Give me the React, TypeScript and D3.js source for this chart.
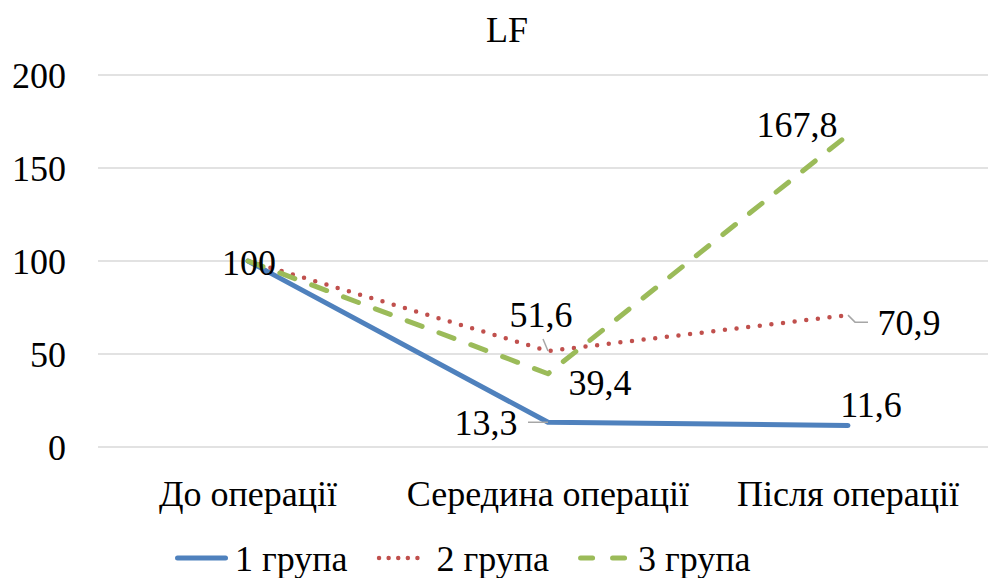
import React from "react";
import * as d3 from "d3";

const categories = ["До операції", "Середина операції", "Після операції"];
const seriesNames = ["1 група", "2 група", "3 група"];
const group1 = [100, 13.3, 11.6];
const group2 = [100, 51.6, 70.9];
const group3 = [100, 39.4, 167.8];
const yTicks = [0, 50, 100, 150, 200];

const W = 988;
const H = 578;
const FONT = "'Liberation Serif', 'Times New Roman', 'Liberation Sans', Arial, sans-serif";
const FS = 36;

const colors = ["#4F81BD", "#C0504D", "#9BBB59"];
const dashes = ["none", "0 11.7", "16 18"];
const legendDashes = ["none", "0 9.6", "12 20"];
const widths = [5, 4.5, 5];

const fmt = (v: number) => (Number.isInteger(v) ? String(v) : v.toFixed(1).replace(".", ","));

const txtStyle: React.CSSProperties = { fontFamily: FONT, fontSize: FS };

function textWidth(s: string): number {
  if (typeof document === "undefined") return s.length * FS * 0.5;
  const c = document.createElement("canvas").getContext("2d");
  if (!c) return s.length * FS * 0.5;
  c.font = `${FS}px ${FONT}`;
  return c.measureText(s).width;
}

export default function App() {
  const x = d3.scalePoint<string>().domain(categories).range([248, 848]);
  const y = d3.scaleLinear().domain([0, 200]).range([447, 75]);
  const line = d3
    .line<number>()
    .x((_, i) => x(categories[i]) as number)
    .y((d) => y(d));

  const all = [group1, group2, group3];

  // label offsets relative to the data point
  type Lbl = { s: number; i: number; dx: number; dy: number; leader?: [number, number][] };
  const labels: Lbl[] = [
    { s: 0, i: 0, dx: 1, dy: 14 },
    { s: 1, i: 1, dx: -7, dy: -24, leader: [[-5, -12], [0, 0]] },
    { s: 2, i: 1, dx: 52, dy: 21 },
    { s: 0, i: 1, dx: -62, dy: 13, leader: [[-20, 0], [0, 0]] },
    { s: 2, i: 2, dx: -51, dy: 2 },
    { s: 1, i: 2, dx: 61, dy: 20, leader: [[20, 7], [7, 7], [0, 0]] },
    { s: 0, i: 2, dx: 23, dy: -8 },
  ];

  // legend: swatch 53px, 7px gap, text, 29px gap
  let cursor = 175;
  const legendItems = seriesNames.map((n) => {
    const lx = cursor;
    const tx = lx + 60;
    cursor = tx + textWidth(n) + 29;
    return { lx, tx, n };
  });

  return (
    <svg width={W} height={H} style={{ display: "block", position: "absolute", left: 0, top: 0 }}>
      <rect width={W} height={H} fill="#fff" />
      <text x={507} y={42} textAnchor="middle" style={txtStyle} fill="#000">LF</text>

      {yTicks.map((t) => (
        <g key={t}>
          <line x1={98} x2={W} y1={y(t)} y2={y(t)} stroke="#D9D9D9" strokeWidth={1.5} />
          <text x={66} y={y(t) + 13} textAnchor="end" style={txtStyle} fill="#000">{t}</text>
        </g>
      ))}

      {categories.map((c) => (
        <text key={c} x={x(c)} y={506} textAnchor="middle" style={txtStyle} fill="#000">{c}</text>
      ))}

      {all.map((vals, s) => (
        <path
          key={s}
          d={line(vals) as string}
          fill="none"
          stroke={colors[s]}
          strokeWidth={widths[s]}
          strokeDasharray={dashes[s]}
          strokeLinecap="round"
          strokeLinejoin="round"
        />
      ))}

      {labels.map((l, k) => {
        const px = x(categories[l.i]) as number;
        const py = y(all[l.s][l.i]);
        return (
          <g key={k}>
            {l.leader && (
              <polyline
                points={l.leader.map(([a, b]) => `${px + a},${py + b}`).join(" ")}
                fill="none"
                stroke="#A6A6A6"
                strokeWidth={1.5}
              />
            )}
            <text x={px + l.dx} y={py + l.dy} textAnchor="middle" style={txtStyle} fill="#000">
              {fmt(all[l.s][l.i])}
            </text>
          </g>
        );
      })}

      {legendItems.map((it, s) => (
        <g key={s}>
          <line
            x1={it.lx + 2.5}
            x2={it.lx + 50.5}
            y1={558}
            y2={558}
            stroke={colors[s]}
            strokeWidth={widths[s]}
            strokeDasharray={legendDashes[s]}
            strokeLinecap="round"
          />
          <text x={it.tx} y={571} style={txtStyle} fill="#000">{it.n}</text>
        </g>
      ))}
    </svg>
  );
}
